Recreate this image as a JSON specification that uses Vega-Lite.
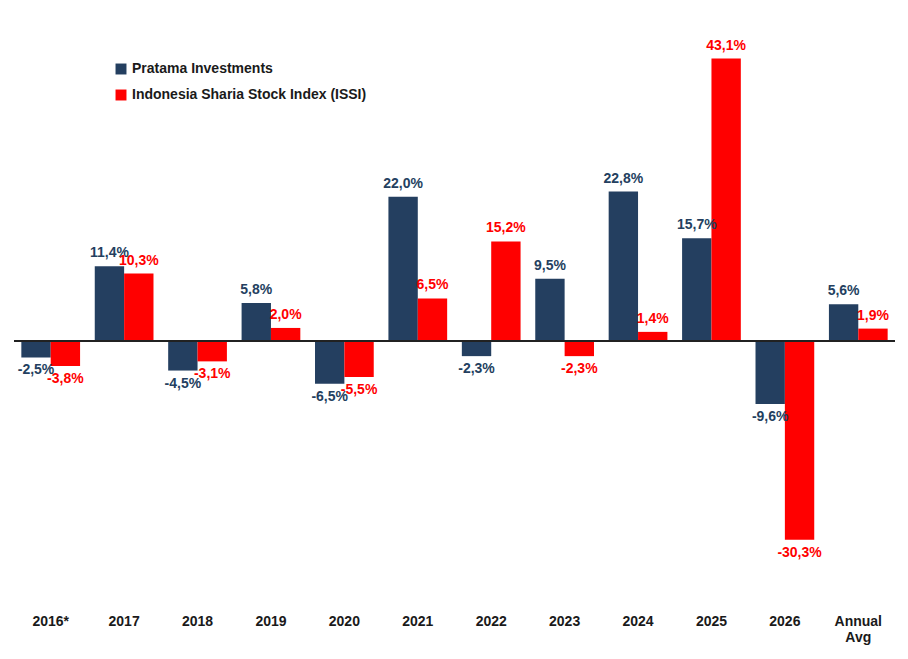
{
  "$schema": "https://vega.github.io/schema/vega-lite/v6.json",
  "width": 881,
  "height": 590,
  "autosize": "none",
  "padding": {"left": 14, "top": 10, "right": 13, "bottom": 59},
  "background": "white",
  "config": {"view": {"stroke": null}, "font": "Liberation Sans"},
  "data": {"values": [
    {"cat": "2016*", "series": "Pratama Investments", "value": -2.5, "label": "-2,5%"},
    {"cat": "2016*", "series": "Indonesia Sharia Stock Index (ISSI)", "value": -3.8, "label": "-3,8%"},
    {"cat": "2017", "series": "Pratama Investments", "value": 11.4, "label": "11,4%"},
    {"cat": "2017", "series": "Indonesia Sharia Stock Index (ISSI)", "value": 10.3, "label": "10,3%"},
    {"cat": "2018", "series": "Pratama Investments", "value": -4.5, "label": "-4,5%"},
    {"cat": "2018", "series": "Indonesia Sharia Stock Index (ISSI)", "value": -3.1, "label": "-3,1%"},
    {"cat": "2019", "series": "Pratama Investments", "value": 5.8, "label": "5,8%"},
    {"cat": "2019", "series": "Indonesia Sharia Stock Index (ISSI)", "value": 2.0, "label": "2,0%"},
    {"cat": "2020", "series": "Pratama Investments", "value": -6.5, "label": "-6,5%"},
    {"cat": "2020", "series": "Indonesia Sharia Stock Index (ISSI)", "value": -5.5, "label": "-5,5%"},
    {"cat": "2021", "series": "Pratama Investments", "value": 22.0, "label": "22,0%"},
    {"cat": "2021", "series": "Indonesia Sharia Stock Index (ISSI)", "value": 6.5, "label": "6,5%"},
    {"cat": "2022", "series": "Pratama Investments", "value": -2.3, "label": "-2,3%"},
    {"cat": "2022", "series": "Indonesia Sharia Stock Index (ISSI)", "value": 15.2, "label": "15,2%"},
    {"cat": "2023", "series": "Pratama Investments", "value": 9.5, "label": "9,5%"},
    {"cat": "2023", "series": "Indonesia Sharia Stock Index (ISSI)", "value": -2.3, "label": "-2,3%"},
    {"cat": "2024", "series": "Pratama Investments", "value": 22.8, "label": "22,8%"},
    {"cat": "2024", "series": "Indonesia Sharia Stock Index (ISSI)", "value": 1.4, "label": "1,4%"},
    {"cat": "2025", "series": "Pratama Investments", "value": 15.7, "label": "15,7%"},
    {"cat": "2025", "series": "Indonesia Sharia Stock Index (ISSI)", "value": 43.1, "label": "43,1%"},
    {"cat": "2026", "series": "Pratama Investments", "value": -9.6, "label": "-9,6%"},
    {"cat": "2026", "series": "Indonesia Sharia Stock Index (ISSI)", "value": -30.3, "label": "-30,3%"},
    {"cat": "Annual Avg", "series": "Pratama Investments", "value": 5.6, "label": "5,6%"},
    {"cat": "Annual Avg", "series": "Indonesia Sharia Stock Index (ISSI)", "value": 1.9, "label": "1,9%"}
  ]},
  "encoding": {
    "x": {"field": "cat", "type": "nominal", "sort": null, "title": null,
      "scale": {"paddingInner": 0.2, "paddingOuter": 0.1},
      "axis": {"domain": false, "ticks": false, "labelAngle": 0, "labelFontWeight": "bold", "labelFontSize": 14, "labelColor": "#1a1a1a", "labelPadding": 14,
        "labelExpr": "datum.value == 'Annual Avg' ? ['Annual', 'Avg'] : datum.value"}},
    "xOffset": {"field": "series", "type": "nominal", "sort": ["Pratama Investments", "Indonesia Sharia Stock Index (ISSI)"]},
    "y": {"field": "value", "type": "quantitative", "scale": {"domain": [-39.5, 50.5], "nice": false}, "axis": null},
    "color": {"field": "series", "type": "nominal", "sort": ["Pratama Investments", "Indonesia Sharia Stock Index (ISSI)"],
      "scale": {"range": ["#243F60", "#FF0000"]},
      "legend": {"title": null, "orient": "none", "legendX": 100, "legendY": 52, "symbolType": "square", "symbolSize": 120, "labelFontSize": 14, "labelFontWeight": "bold", "labelColor": "#1a1a1a", "labelLimit": 400, "rowPadding": 12}}
  },
  "layer": [
    {"mark": {"type": "bar"}},
    {"mark": {"type": "rule", "color": "#222", "strokeWidth": 1.5}, "encoding": {"y": {"datum": 0}, "x": {"value": 0}, "x2": {"value": 881}, "xOffset": null, "color": {"value": "#222"}}},
    {"transform": [{"filter": "datum.value >= 0"}],
      "mark": {"type": "text", "baseline": "bottom", "dy": -6, "fontSize": 14, "fontWeight": "bold"},
      "encoding": {"text": {"field": "label"}}},
    {"transform": [{"filter": "datum.value < 0"}],
      "mark": {"type": "text", "baseline": "top", "dy": 6, "fontSize": 14, "fontWeight": "bold"},
      "encoding": {"text": {"field": "label"}}}
  ]
}
